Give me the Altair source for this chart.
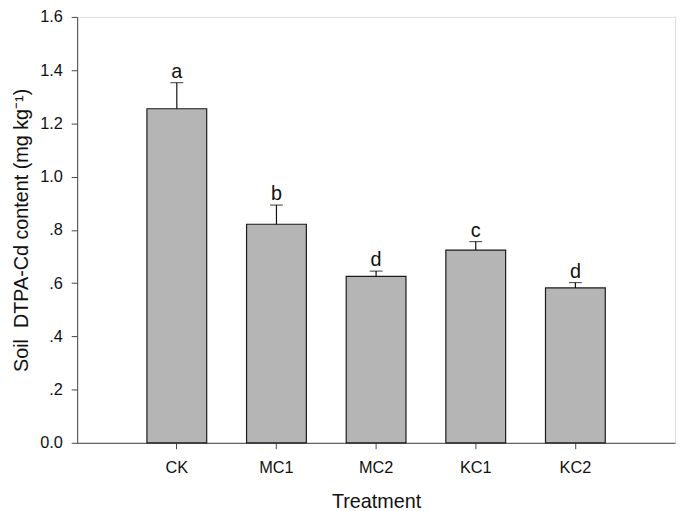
import altair as alt
import pandas as pd

treatments = ["CK", "MC1", "MC2", "KC1", "KC2"]
means = [1.255, 0.821, 0.625, 0.724, 0.582]
upper = [1.353, 0.893, 0.645, 0.756, 0.602]
letters = ["a", "b", "d", "c", "d"]
y_ticks = [0.0, 0.2, 0.4, 0.6, 0.8, 1.0, 1.2, 1.4, 1.6]
y_tick_labels = ["0.0", ".2", ".4", ".6", ".8", "1.0", "1.2", "1.4", "1.6"]

df = pd.DataFrame({"Treatment": treatments, "mean": means, "upper": upper, "letter": letters})

FONT = "Liberation Sans"
label_array = "[" + ",".join("'" + s + "'" for s in y_tick_labels) + "]"

x_enc = alt.X(
    "Treatment:N",
    sort=treatments,
    scale=alt.Scale(paddingInner=0.4, paddingOuter=0.7),
    axis=alt.Axis(
        title="Treatment", labelAngle=0, labelFont=FONT, labelFontSize=16.5,
        labelColor="#111111", titleFont=FONT, titleFontSize=20, titleFontWeight="normal",
        titleColor="#111111", domainColor="#444444", tickColor="#444444",
        tickSize=6, labelPadding=11, titlePadding=16, grid=False,
    ),
)

y_scale = alt.Scale(domain=[0, 1.6], nice=False)

bars = alt.Chart(df).mark_bar(
    fill="#b5b5b5", stroke="#1a1a1a", strokeWidth=1.2
).encode(
    x=x_enc,
    y=alt.Y(
        "mean:Q", scale=y_scale,
        axis=alt.Axis(
            title="Soil\u00a0\u00a0DTPA-Cd content (mg kg\u207b\u00b9)", values=y_ticks,
            labelExpr=label_array + "[round(datum.value*5)]",
            labelFont=FONT, labelFontSize=16.5, labelColor="#111111",
            titleFont=FONT, titleFontSize=20, titleFontWeight="normal",
            titleColor="#111111", domainColor="#444444", tickColor="#444444",
            tickSize=6, labelPadding=9, titlePadding=8, grid=False,
        ),
    ),
)

err = alt.Chart(df).mark_rule(color="#111111", strokeWidth=1.2).encode(
    x=alt.X("Treatment:N", sort=treatments),
    y=alt.Y("mean:Q", scale=y_scale),
    y2="upper:Q",
)

caps = alt.Chart(df).mark_tick(color="#111111", thickness=1.2, size=13).encode(
    x=alt.X("Treatment:N", sort=treatments),
    y=alt.Y("upper:Q", scale=y_scale),
)

text = alt.Chart(df).mark_text(
    font=FONT, fontSize=20, color="#111111", baseline="alphabetic", dy=-5
).encode(
    x=alt.X("Treatment:N", sort=treatments),
    y=alt.Y("upper:Q", scale=y_scale),
    text="letter:N",
)

chart = alt.layer(bars, err, caps, text).properties(
    width=605, height=431,
    autosize=alt.AutoSizeParams(type="none"),
    padding={"left": 70, "top": 6, "right": 2, "bottom": 66},
).configure_view(stroke=None).configure(background="white")

chart.save("out.html", embed_options={"renderer": "svg", "actions": False})
